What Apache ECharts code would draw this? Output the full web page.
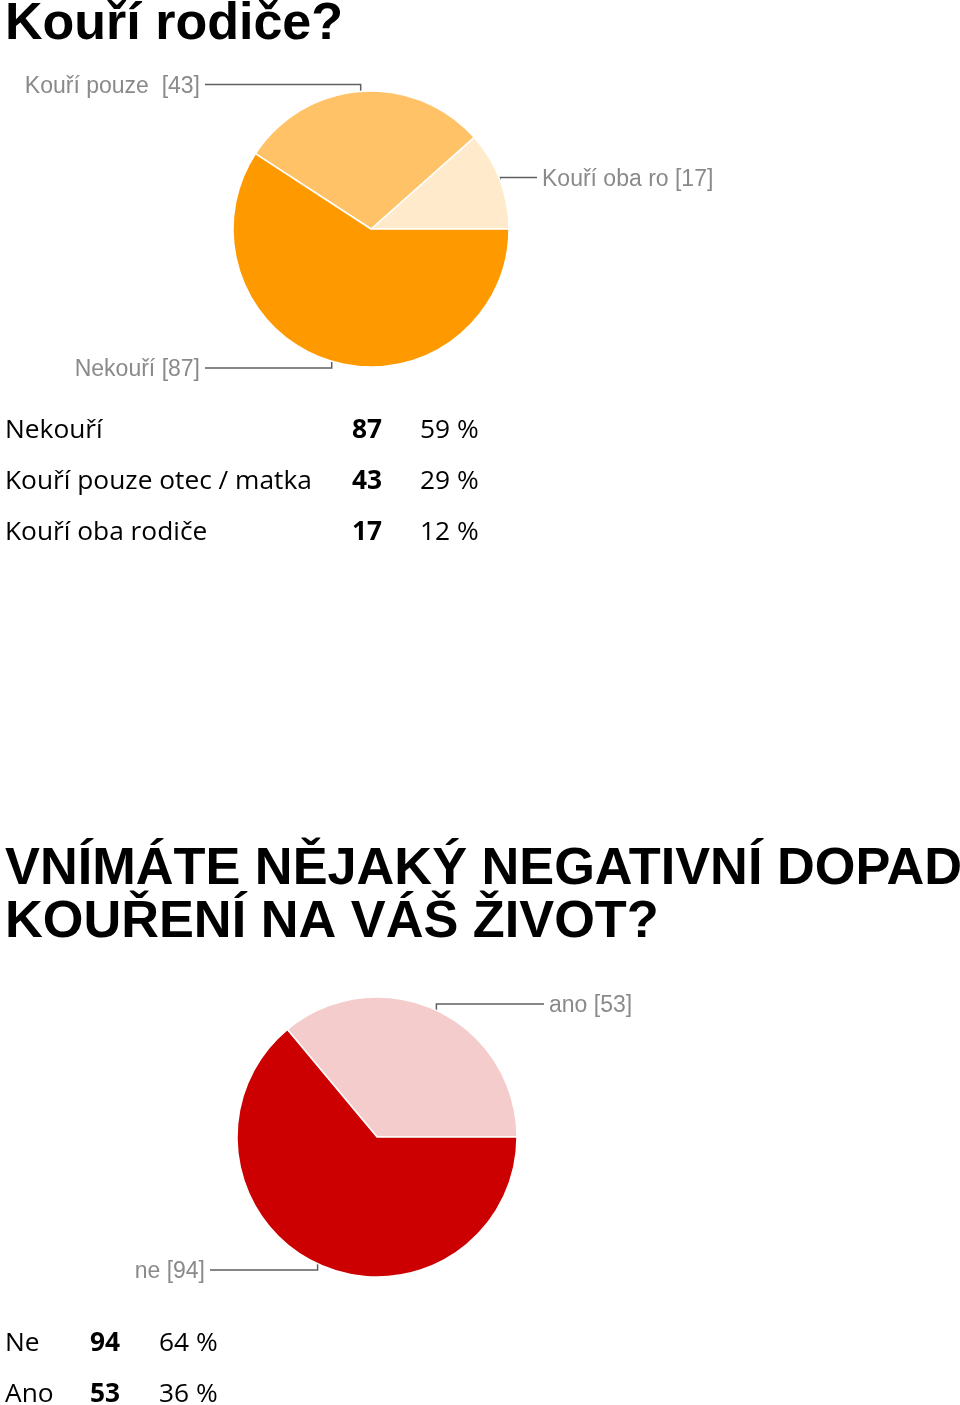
<!DOCTYPE html>
<html>
<head>
<meta charset="utf-8">
<script src="https://cdn.jsdelivr.net/npm/echarts@6/dist/echarts.min.js"></script>
<style>
html, body { margin: 0; padding: 0; background: #fff; }
#chart { width: 960px; height: 1405px; }
</style>
</head>
<body>
<div id="chart"></div>
<script>
// ---- Data: question 1 ----
const q1Title = 'Kouří rodiče?';
const q1Categories = ['Kouří oba ro', 'Kouří pouze ', 'Nekouří'];
const q1Values = [17, 43, 87];
const q1Colors = ['#FFEBCB', '#FFC266', '#FF9900'];
const q1TableLabels = ['Nekouří', 'Kouří pouze otec / matka', 'Kouří oba rodiče'];
const q1TableCounts = [87, 43, 17];
const q1TablePercents = ['59 %', '29 %', '12 %'];

// ---- Data: question 2 ----
const q2TitleLines = ['VNÍMÁTE NĚJAKÝ NEGATIVNÍ DOPAD', 'KOUŘENÍ NA VÁŠ ŽIVOT?'];
const q2Categories = ['ano', 'ne'];
const q2Values = [53, 94];
const q2Colors = ['#F4CCCC', '#CC0000'];
const q2TableLabels = ['Ne', 'Ano'];
const q2TableCounts = [94, 53];
const q2TablePercents = ['64 %', '36 %'];

// ---- Layout ----
const PIE1 = { cx: 371, cy: 229, r: 138, reach: 166 };
const PIE2 = { cx: 377, cy: 1137, r: 140, reach: 167 };
const TABLE_FONT_FAMILY = '"Open Sans", "Noto Sans", sans-serif';
const TABLE_SIZE = 26.3;

function makeLabelLayout(cx, reach) {
  return function (params) {
    const pts = params.labelLinePoints;
    if (!pts) return {};
    const p0 = pts[0], p1 = pts[1];
    const left = p0[0] < cx;
    const endX = left ? cx - reach : cx + reach;
    const y = p1[1];
    return {
      x: left ? endX - 5 : endX + 5,
      y: y + 2,
      align: left ? 'right' : 'left',
      verticalAlign: 'middle',
      labelLinePoints: [[p0[0], p0[1]], [p0[0], y], [endX, y]]
    };
  };
}

function pieSeries(cats, vals, colors, geo) {
  return {
    type: 'pie',
    center: [geo.cx, geo.cy],
    radius: geo.r,
    startAngle: 0,
    clockwise: false,
    animation: false,
    avoidLabelOverlap: false,
    silent: true,
    data: cats.map(function (c, i) {
      return { name: c, value: vals[i], itemStyle: { color: colors[i] } };
    }),
    itemStyle: { borderColor: '#ffffff', borderWidth: 1.5 },
    label: {
      show: true,
      formatter: '{b} [{c}]',
      color: '#8a8a8a',
      fontFamily: '"Liberation Sans", Arial, sans-serif',
      fontSize: 23
    },
    labelLine: {
      show: true,
      length: 7,
      length2: 10,
      lineStyle: { color: '#5f5f5f', width: 1.5 }
    },
    labelLayout: makeLabelLayout(geo.cx, geo.reach),
    emphasis: { disabled: true }
  };
}

function txt(text, x, y, font) {
  return {
    type: 'text',
    x: x,
    y: y,
    silent: true,
    style: {
      text: text,
      font: font,
      fill: '#000',
      align: 'left',
      verticalAlign: 'middle'
    }
  };
}

const graphics = [];
graphics.push(txt(q1Title, 5, 25, 'bold 52px "Liberation Sans", Arial, sans-serif'));
q2TitleLines.forEach(function (line, i) {
  graphics.push(txt(line, 5, 869.5 + i * 53.5, 'bold 52.3px "Liberation Sans", Arial, sans-serif'));
});

const normalFont = TABLE_SIZE + 'px ' + TABLE_FONT_FAMILY;
const boldFont = 'bold ' + TABLE_SIZE + 'px ' + TABLE_FONT_FAMILY;

q1TableLabels.forEach(function (lab, i) {
  const y = 430.5 + i * 51.2;
  graphics.push(txt(lab, 5, y, normalFont));
  graphics.push(txt(String(q1TableCounts[i]), 352, y, boldFont));
  graphics.push(txt(q1TablePercents[i], 420, y, normalFont));
});
q2TableLabels.forEach(function (lab, i) {
  const y = 1343.3 + i * 51;
  graphics.push(txt(lab, 5, y, normalFont));
  graphics.push(txt(String(q2TableCounts[i]), 90, y, boldFont));
  graphics.push(txt(q2TablePercents[i], 159, y, normalFont));
});

const chart = echarts.init(document.getElementById('chart'), null, { renderer: 'canvas' });
chart.setOption({
  backgroundColor: '#ffffff',
  animation: false,
  series: [
    pieSeries(q1Categories, q1Values, q1Colors, PIE1),
    pieSeries(q2Categories, q2Values, q2Colors, PIE2)
  ],
  graphic: graphics
});
</script>
</body>
</html>
